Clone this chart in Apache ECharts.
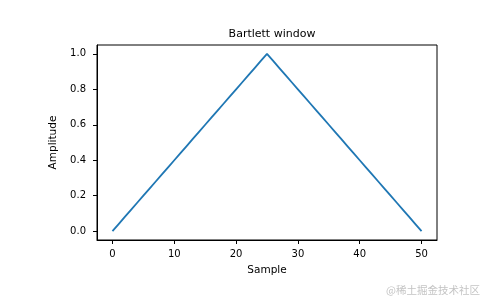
<!DOCTYPE html>
<html>
<head>
<meta charset="utf-8">
<script src="https://cdn.jsdelivr.net/npm/echarts@6/dist/echarts.min.js"></script>
<style>
html,body{margin:0;padding:0;background:#fff;}
#main{width:485px;height:300px;}
</style>
</head>
<body>
<div id="main"></div>
<script>
// Sample indices 0..50
var samples = [0,1,2,3,4,5,6,7,8,9,10,11,12,13,14,15,16,17,18,19,20,21,22,23,24,25,26,27,28,29,30,31,32,33,34,35,36,37,38,39,40,41,42,43,44,45,46,47,48,49,50];
// Bartlett window amplitudes
var amplitude = [0.00,0.04,0.08,0.12,0.16,0.20,0.24,0.28,0.32,0.36,0.40,0.44,0.48,0.52,0.56,0.60,0.64,0.68,0.72,0.76,0.80,0.84,0.88,0.92,0.96,1.00,0.96,0.92,0.88,0.84,0.80,0.76,0.72,0.68,0.64,0.60,0.56,0.52,0.48,0.44,0.40,0.36,0.32,0.28,0.24,0.20,0.16,0.12,0.08,0.04,0.00];
var xTicks = [0,10,20,30,40,50];
var yTicks = [0.0,0.2,0.4,0.6,0.8,1.0];
var titleText = 'Bartlett window';
var xName = 'Sample';
var yName = 'Amplitude';
var watermark = '@稀土掘金技术社区';

var pts = samples.map(function(s,i){return [s, amplitude[i]];});
var font = 'DejaVu Sans';
var chart = echarts.init(document.getElementById('main'), null, {renderer:'canvas'});
chart.setOption({
  animation:false,
  backgroundColor:'#fff',
  title:{
    text:titleText, left:267, top:24, textAlign:'center',
    textStyle:{fontFamily:font,fontSize:11,fontWeight:'normal',color:'#000'}
  },
  grid:{left:97,right:48,top:45,bottom:60,show:true,borderColor:'#000',borderWidth:1,backgroundColor:'transparent'},
  xAxis:{
    type:'value', min:-2.5, max:52.5,
    name:xName, nameLocation:'middle', nameGap:25,
    nameTextStyle:{fontFamily:font,fontSize:10.5,color:'#000'},
    axisLine:{show:true,onZero:false,lineStyle:{color:'#000',width:1}},
    axisTick:{show:true,customValues:xTicks,length:4,inside:false,lineStyle:{color:'#000',width:1}},
    axisLabel:{customValues:xTicks,fontFamily:font,fontSize:10,color:'#000',margin:9,
      formatter:function(v){return String(v);}},
    splitLine:{show:false}
  },
  yAxis:{
    type:'value', min:-0.05, max:1.05,
    name:yName, nameLocation:'middle', nameGap:30, nameRotate:90,
    nameTextStyle:{fontFamily:font,fontSize:10.5,color:'#000'},
    axisLine:{show:true,onZero:false,lineStyle:{color:'#000',width:1}},
    axisTick:{show:true,customValues:yTicks,length:4,inside:false,lineStyle:{color:'#000',width:1}},
    axisLabel:{customValues:yTicks,fontFamily:font,fontSize:10,color:'#000',margin:11,
      formatter:function(v){return v.toFixed(1);}},
    splitLine:{show:false}
  },
  series:[{
    type:'line', data:pts, showSymbol:false, symbol:'none',
    lineStyle:{color:'#1f77b4',width:1.8}, z:3
  }],
  graphic:[{
    type:'text', right:5, top:285,
    style:{text:watermark,fontFamily:'Noto Sans CJK SC',fontSize:10.5,fill:'#c4c4c4'}
  }]
});
</script>
</body>
</html>
